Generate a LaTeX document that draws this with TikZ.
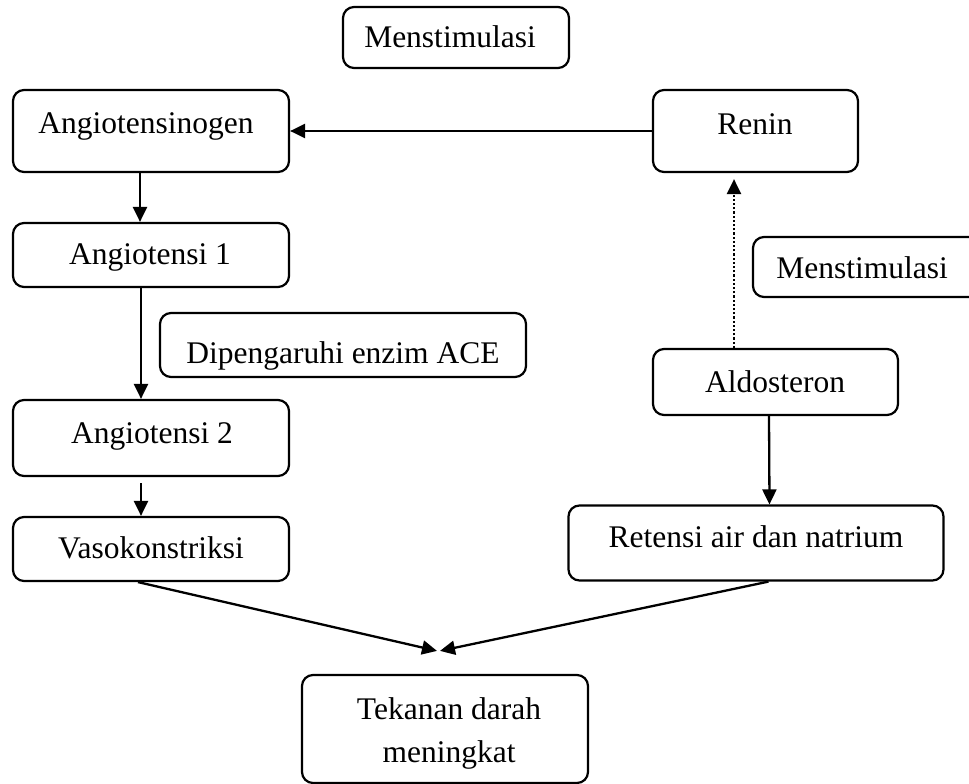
\documentclass[tikz,border=0pt]{standalone}
\usepackage{fontspec}
\setmainfont{Liberation Serif}
\usetikzlibrary{arrows.meta}
\begin{document}
\begin{tikzpicture}[x=1pt,y=-1pt,
  box/.style={draw=black,line width=2.2pt,rounded corners=11pt,inner sep=0pt},
  lbl/.style={anchor=base,inner sep=0pt,font=\fontsize{31.5}{37}\selectfont},
  arr/.style={line width=2.3pt,-{Triangle[length=15pt,width=14pt]}},
  dotarr/.style={arr,dash pattern=on 2.2pt off 2pt}]
\useasboundingbox (0,0) rectangle (969,784);
% boxes
\node[box,minimum width=226pt,minimum height=61pt] (m1) at (456,37.5) {};
\node[box,minimum width=276pt,minimum height=82pt] (ang) at (151,131) {};
\node[box,minimum width=205pt,minimum height=82pt] (ren) at (755.5,131) {};
\node[box,minimum width=276pt,minimum height=64pt] (a1) at (151,255) {};
\node[box,minimum width=366pt,minimum height=64pt] (ace) at (343,345) {};
\node[box,minimum width=276pt,minimum height=76pt] (a2) at (151,438) {};
\node[box,minimum width=276pt,minimum height=64pt] (vaso) at (151,549) {};
\node[box,minimum width=232pt,minimum height=60pt] (m2) at (869,267) {};
\node[box,minimum width=245pt,minimum height=66pt] (ald) at (775.5,382) {};
\node[box,minimum width=375pt,minimum height=75pt] (ret) at (756,543) {};
\node[box,minimum width=286pt,minimum height=108pt] (tek) at (445,729) {};
% texts
\node[lbl] (m1t) at (450,48) {Menstimulasi};
\node[lbl] (angt) at (146,133) {Angiotensinogen};
\node[lbl] (rent) at (755,134) {Renin};
\node[lbl] (a1t) at (150,264) {Angiotensi 1};
\node[lbl] (acet) at (343,363) {Dipengaruhi enzim ACE};
\node[lbl] (a2t) at (152,443) {Angiotensi 2};
\node[lbl] (vasot) at (151,558) {Vasokonstriksi};
\node[lbl] (m2t) at (862,278) {Menstimulasi};
\node[lbl] (aldt) at (775,392) {Aldosteron};
\node[lbl] (rett) at (756,547) {Retensi air dan natrium};
\node[lbl] (tekt1) at (449,719) {Tekanan darah};
\node[lbl] (tekt2) at (449,762) {meningkat};
% connectors
\draw[arr] (ren.west) -- (ang.east);
\draw[arr] ([xshift=-11pt]ang.south) -- ([xshift=-11pt]a1.north);
\draw[arr] ([xshift=-10pt]a1.south) -- ([xshift=-10pt]a2.north);
\draw[arr] ([xshift=-10pt,yshift=-6pt]a2.south) -- ([xshift=-10pt]vaso.north);
\draw[dotarr] ([xshift=-41.5pt]ald.north) -- ([xshift=-21.5pt,yshift=-6pt]ren.south);
\draw[arr] ([xshift=-6.5pt]ald.south) -- ([xshift=13.5pt]ret.north);
\draw[arr] ([xshift=-13pt]vaso.south) -- ([xshift=-8pt,yshift=23pt]tek.north);
\draw[arr] ([xshift=12.5pt]ret.south) -- ([xshift=-5pt,yshift=23pt]tek.north);
\end{tikzpicture}
\end{document}
